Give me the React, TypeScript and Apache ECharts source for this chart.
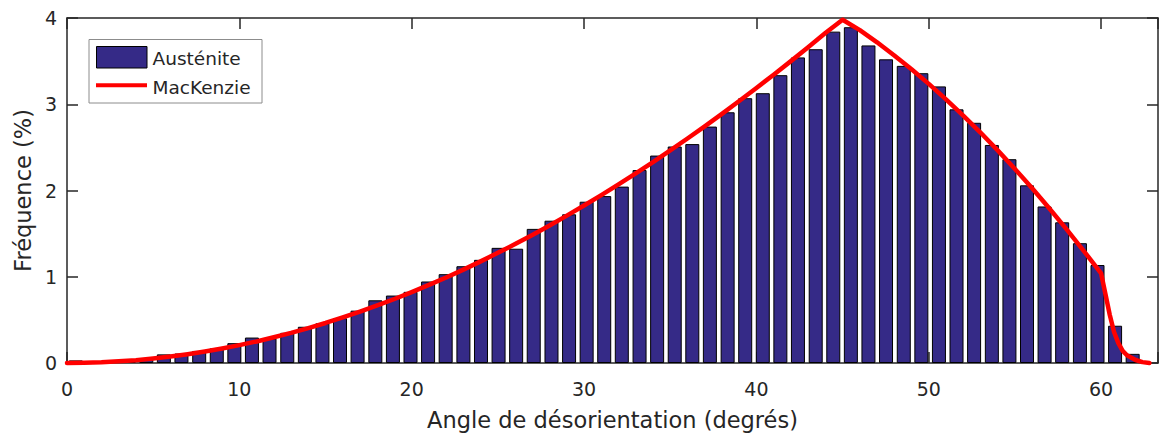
import React, { useEffect, useRef } from "react";
import * as echarts from "echarts";

// Histogram bin centres (degrees) and measured austenite frequencies (%)
const binCenters = [
  0.51, 1.53, 2.56, 3.58, 4.6, 5.62, 6.64, 7.67, 8.69, 9.71,
  10.73, 11.75, 12.78, 13.8, 14.82, 15.84, 16.86, 17.89, 18.91, 19.93,
  20.95, 21.97, 23.0, 24.02, 25.04, 26.06, 27.08, 28.11, 29.13, 30.15,
  31.17, 32.19, 33.22, 34.24, 35.26, 36.28, 37.3, 38.33, 39.35, 40.37,
  41.39, 42.41, 43.44, 44.46, 45.48, 46.5, 47.52, 48.55, 49.57, 50.59,
  51.61, 52.63, 53.66, 54.68, 55.7, 56.72, 57.74, 58.77, 59.79, 60.81,
  61.83,
];
const austenite = [
  0.03, 0.01, 0.02, 0.03, 0.05, 0.1, 0.11, 0.14, 0.17, 0.23,
  0.295, 0.285, 0.35, 0.42, 0.46, 0.52, 0.607, 0.727, 0.782, 0.825,
  0.945, 1.03, 1.122, 1.196, 1.335, 1.325, 1.555, 1.65, 1.724, 1.87,
  1.935, 2.045, 2.237, 2.405, 2.51, 2.538, 2.741, 2.907, 3.07, 3.128,
  3.337, 3.543, 3.638, 3.842, 3.893, 3.682, 3.521, 3.445, 3.36, 3.207,
  2.941, 2.785, 2.528, 2.363, 2.06, 1.815, 1.631, 1.389, 1.136, 0.432,
  0.106,
];

// MacKenzie reference curve (angle in degrees, frequency in %)
const mackenzieAngles = [
  0, 1, 2, 3, 4, 5, 6, 7, 8, 9,
  10, 11, 12, 13, 14, 15, 16, 17, 18, 19,
  20, 21, 22, 23, 24, 25, 26, 27, 28, 29,
  30, 31, 32, 33, 34, 35, 36, 37, 38, 39,
  40, 41, 42, 43, 44, 45, 46, 47, 48, 49,
  50, 51, 52, 53, 54, 55, 56, 57, 58, 59,
  60, 60.25, 60.5, 60.75, 61, 61.25, 61.5, 62, 62.4, 62.8,
];
const mackenzieFreq = [
  0, 0.002, 0.008, 0.019, 0.033, 0.052, 0.075, 0.102, 0.133, 0.168,
  0.207, 0.25, 0.298, 0.349, 0.405, 0.464, 0.528, 0.596, 0.667, 0.742,
  0.822, 0.905, 0.992, 1.083, 1.178, 1.277, 1.379, 1.485, 1.595, 1.709,
  1.826, 1.946, 2.071, 2.198, 2.33, 2.464, 2.603, 2.744, 2.889, 3.037,
  3.188, 3.343, 3.5, 3.661, 3.825, 3.98, 3.859, 3.718, 3.566, 3.406,
  3.236, 3.057, 2.869, 2.672, 2.465, 2.249, 2.025, 1.791, 1.549, 1.298,
  1.038, 0.8, 0.56, 0.36, 0.23, 0.14, 0.09, 0.035, 0.01, 0,
];

const xMin = 0;
const xMax = 63.3;
const xStep = 10;
const yMin = 0;
const yMax = 4;
const yStep = 1;

const legendLabels = ["Austénite", "MacKenzie"];
const xTitle = "Angle de désorientation (degrés)";
const yTitle = "Fréquence (%)";

const AXIS_COLOR = "#262626";
const BAR_COLOR = "#352A87";
const LINE_COLOR = "#ff0000";
const FONT = "DejaVu Sans";

export default function App() {
  const ref = useRef<HTMLDivElement>(null);

  useEffect(() => {
    if (!ref.current) return;
    const chart = echarts.init(ref.current, null, { renderer: "svg" });

    const lineStyle = { color: AXIS_COLOR, width: 1.5 };
    const tick = { show: true, inside: true, length: 11, lineStyle };
    const tickLabel = (v: number, step: number) =>
      Math.abs(v / step - Math.round(v / step)) < 1e-9 ? String(v) : "";

    chart.setOption({
      animation: false,
      backgroundColor: "#ffffff",
      grid: { left: 67, top: 18, width: 1093, height: 345.3, containLabel: false },
      xAxis: [
        {
          type: "value",
          position: "bottom",
          min: xMin,
          max: xMax,
          interval: xStep,
          axisLine: { show: true, onZero: false, lineStyle },
          axisTick: tick,
          splitLine: { show: false },
          axisLabel: {
            formatter: (v: number) => tickLabel(v, xStep),
            fontFamily: FONT,
            fontSize: 19,
            color: AXIS_COLOR,
            margin: 16,
          },
          name: xTitle,
          nameLocation: "middle",
          nameGap: 45,
          nameTextStyle: { fontFamily: FONT, fontSize: 22.5, color: AXIS_COLOR },
        },
        {
          type: "value",
          position: "top",
          min: xMin,
          max: xMax,
          interval: xStep,
          axisLine: { show: true, onZero: false, lineStyle },
          axisTick: tick,
          splitLine: { show: false },
          axisLabel: { show: false },
        },
      ],
      yAxis: [
        {
          type: "value",
          position: "left",
          min: yMin,
          max: yMax,
          interval: yStep,
          axisLine: { show: true, onZero: false, lineStyle },
          axisTick: tick,
          splitLine: { show: false },
          axisLabel: {
            formatter: (v: number) => tickLabel(v, yStep),
            fontFamily: FONT,
            fontSize: 19,
            color: AXIS_COLOR,
            margin: 10,
            padding: [5, 0, 0, 0],
          },
          name: yTitle,
          nameLocation: "middle",
          nameGap: 30,
          nameRotate: 90,
          nameTextStyle: { fontFamily: FONT, fontSize: 22.5, color: AXIS_COLOR },
        },
        {
          type: "value",
          position: "right",
          min: yMin,
          max: yMax,
          interval: yStep,
          axisLine: { show: true, onZero: false, lineStyle },
          axisTick: tick,
          splitLine: { show: false },
          axisLabel: { show: false },
        },
      ],
      series: [
        {
          name: legendLabels[0],
          type: "bar",
          xAxisIndex: 0,
          yAxisIndex: 0,
          barWidth: 14,
          data: binCenters.map((c, i) => [c, austenite[i]]),
          itemStyle: { color: BAR_COLOR, borderColor: "#000000", borderWidth: 1 },
          z: 2,
        },
        {
          name: legendLabels[1],
          type: "line",
          xAxisIndex: 0,
          yAxisIndex: 0,
          showSymbol: false,
          symbol: "none",
          clip: false,
          data: mackenzieAngles.map((a, i) => [a, mackenzieFreq[i]]),
          lineStyle: { color: LINE_COLOR, width: 4.5, join: "round", cap: "round" },
          z: 3,
        },
      ],
      graphic: [
        {
          type: "group",
          z: 100,
          children: [
            {
              type: "rect",
              shape: { x: 89, y: 39.5, width: 173, height: 63.5 },
              style: { fill: "#ffffff", stroke: "#8c8c8c", lineWidth: 1 },
            },
            {
              type: "rect",
              shape: { x: 96.5, y: 46.5, width: 50.5, height: 21.5 },
              style: { fill: BAR_COLOR, stroke: "#000000", lineWidth: 1 },
            },
            {
              type: "line",
              shape: { x1: 96, y1: 85.3, x2: 147, y2: 85.3 },
              style: { stroke: LINE_COLOR, lineWidth: 4 },
            },
            {
              type: "text",
              x: 152.5,
              y: 58,
              style: {
                text: legendLabels[0],
                fontFamily: FONT,
                fontSize: 18.5,
                fill: AXIS_COLOR,
                verticalAlign: "middle",
              },
            },
            {
              type: "text",
              x: 152.5,
              y: 87,
              style: {
                text: legendLabels[1],
                fontFamily: FONT,
                fontSize: 18.5,
                fill: AXIS_COLOR,
                verticalAlign: "middle",
              },
            },
          ],
        },
      ],
    });

    return () => chart.dispose();
  }, []);

  return (
    <div
      ref={ref}
      style={{ position: "absolute", left: 0, top: 0, width: 1161, height: 436, background: "#ffffff" }}
    />
  );
}
